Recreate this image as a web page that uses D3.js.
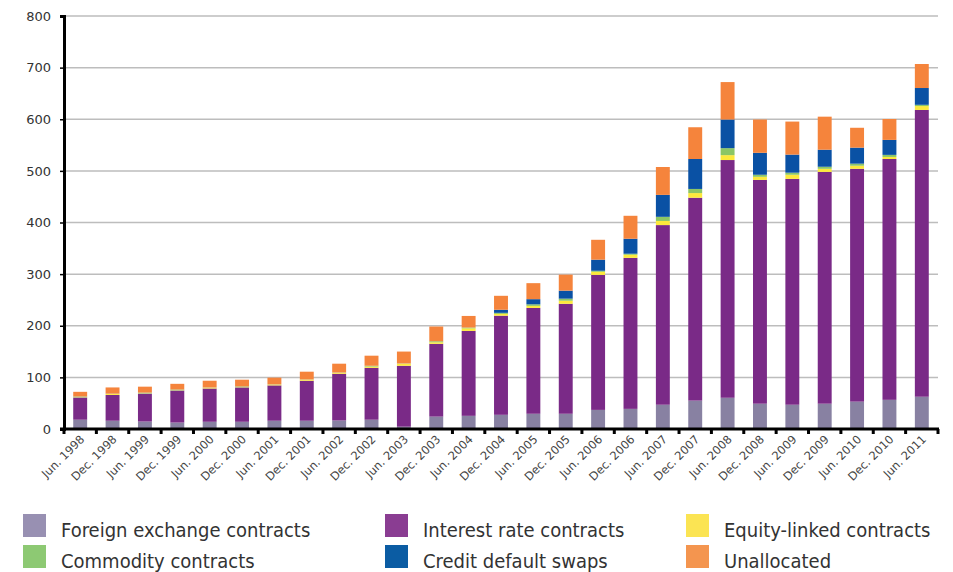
<!DOCTYPE html>
<html lang="en">
<head>
<meta charset="utf-8">
<script src="https://d3js.org/d3.v7.min.js"></script>
<style>
  body { margin: 0; background: #fff; }
</style>
</head>
<body>
<script>
  // periods on the x axis
  var periods = ["Jun. 1998","Dec. 1998","Jun. 1999","Dec. 1999","Jun. 2000","Dec. 2000",
    "Jun. 2001","Dec. 2001","Jun. 2002","Dec. 2002","Jun. 2003","Dec. 2003","Jun. 2004",
    "Dec. 2004","Jun. 2005","Dec. 2005","Jun. 2006","Dec. 2006","Jun. 2007","Dec. 2007",
    "Jun. 2008","Dec. 2008","Jun. 2009","Dec. 2009","Jun. 2010","Dec. 2010","Jun. 2011"];

  // series values
  var foreignExchange = [18,16,14.5,12.5,14,14,16,16,16.5,18,4.5,24,25.5,27.5,29.5,29.5,37,39,47,55,60.5,49,47,49,53,56.5,62.5];
  var interestRate = [43,50,54,62,64.5,66.5,68.5,77.5,90.5,100.5,118,141,164.5,192,205,213,261.5,292.5,348,393,460.5,433.5,437.5,449,451,466.5,555.5];
  var equityLinked = [0.5,2,0.5,0.5,1.5,0.5,1.5,2,2,2.5,4,3,5,3.5,4,6,6,6,8,9,9.5,6,8,6,6,4,7.5];
  var commodity = [1.5,0.5,1.5,1.5,0.5,1.5,0.5,0.5,0.5,1.5,0.5,2,1.5,2,3,4,2,2,8,8,13.5,4,4,4,4,4,2.5];
  var creditDefault = [0,0,0,0,0,0,0,0,0,0,0,0,0,6,10,15.5,21.5,29,42.5,58,55.5,42.5,35,33,31,29,32.5];
  var unallocated = [9,12,11.5,11,13,13,13,15,17,19.5,23,28.5,22.5,27,31,31,38.5,44.5,54,61.5,72.5,64.5,64,64,38.5,40.5,46.5];

  var yTicks = [0,100,200,300,400,500,600,700,800];

  var seriesNames = ["Foreign exchange contracts","Interest rate contracts","Equity-linked contracts",
    "Commodity contracts","Credit default swaps","Unallocated"];
  var seriesValues = [foreignExchange, interestRate, equityLinked, commodity, creditDefault, unallocated];
  var barColors = ["#8881a2","#7a2a87","#fde93c","#8cc665","#0a51a4","#f5843c"];
  var legendColors = ["#9890b2","#8a3d92","#fbe453","#8dc973","#0b5ca3","#f4954f"];

  var width = 953, height = 572;
  var margin = {left: 64, right: 15, top: 16, bottom: 143};

  // rows for d3.stack
  var rows = periods.map(function(p, i) {
    var r = {period: p};
    seriesNames.forEach(function(s, k) { r[s] = seriesValues[k][i]; });
    return r;
  });
  var stacked = d3.stack().keys(seriesNames)(rows);

  var svg = d3.select("body").append("svg")
    .attr("width", width)
    .attr("height", height);

  var x = d3.scaleBand()
    .domain(periods)
    .range([margin.left, width - margin.right])
    .paddingInner(0.57)
    .paddingOuter(0.285);

  var y = d3.scaleLinear()
    .domain([0, 800])
    .range([height - margin.bottom, margin.top]);

  // gridlines
  svg.append("g")
    .selectAll("line")
    .data(yTicks.filter(function(d) { return d > 0; }))
    .enter()
    .append("line")
    .attr("x1", margin.left)
    .attr("x2", width - margin.right)
    .attr("y1", function(d) { return y(d); })
    .attr("y2", function(d) { return y(d); })
    .attr("stroke", "#bdbdbd")
    .attr("stroke-width", 1.5);

  // bars
  svg.append("g")
    .selectAll("g")
    .data(stacked)
    .enter()
    .append("g")
    .attr("fill", function(d, i) { return barColors[i]; })
    .selectAll("rect")
    .data(function(d) { return d; })
    .enter()
    .append("rect")
    .attr("x", function(d) { return x(d.data.period); })
    .attr("y", function(d) { return y(d[1]); })
    .attr("height", function(d) { return y(d[0]) - y(d[1]); })
    .attr("width", x.bandwidth());

  // y axis
  var yAxis = svg.append("g")
    .attr("transform", "translate(" + margin.left + ",0)")
    .call(d3.axisLeft(y).tickValues(yTicks).tickSize(4).tickPadding(9));
  yAxis.select(".domain").attr("stroke", "#000").attr("stroke-width", 3);
  yAxis.selectAll(".tick line").attr("stroke", "#000").attr("stroke-width", 1.5);
  yAxis.selectAll("text")
    .attr("font-family", "DejaVu Sans")
    .attr("font-size", "13px")
    .attr("fill", "#333");

  // x axis: ticks sit between the bars
  var step = x.step();
  var boundaries = periods.map(function(p) { return x(p) - (step - x.bandwidth()) / 2; });
  boundaries.push(width - margin.right);
  var xAxis = svg.append("g");
  xAxis.append("line")
    .attr("x1", margin.left - 4)
    .attr("x2", width - margin.right + 1)
    .attr("y1", y(0))
    .attr("y2", y(0))
    .attr("stroke", "#000")
    .attr("stroke-width", 3);
  xAxis.selectAll("rect.tick")
    .data(boundaries)
    .enter()
    .append("rect")
    .attr("x", function(d) { return d - 1.5; })
    .attr("y", y(0))
    .attr("width", 3)
    .attr("height", 5)
    .attr("fill", "#000");

  xAxis.selectAll("text")
    .data(periods)
    .enter()
    .append("text")
    .attr("transform", function(d) {
      return "translate(" + (x(d) + x.bandwidth() / 2 + 5) + "," + (y(0) + 11) + ") rotate(-45)";
    })
    .attr("text-anchor", "end")
    .attr("font-family", "DejaVu Sans")
    .attr("font-size", "11.5px")
    .attr("fill", "#444")
    .text(function(d) { return d; });

  // legend
  var legendX = [23, 385, 686];
  var legendY = [514, 545];
  var legend = svg.append("g")
    .selectAll("g")
    .data(seriesNames)
    .enter()
    .append("g")
    .attr("transform", function(d, i) {
      return "translate(" + legendX[i % 3] + "," + legendY[Math.floor(i / 3)] + ")";
    });
  legend.append("rect")
    .attr("width", 23)
    .attr("height", 23)
    .attr("fill", function(d, i) { return legendColors[i]; });
  legend.append("text")
    .attr("x", 38)
    .attr("y", 23)
    .attr("font-family", "Liberation Sans Narrow, DejaVu Sans Condensed, sans-serif")
    .attr("font-size", "20px")
    .attr("fill", "#333")
    .text(function(d) { return d; });
</script>
</body>
</html>
